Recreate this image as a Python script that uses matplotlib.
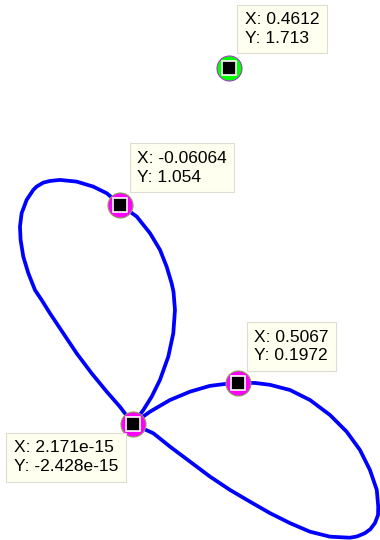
import matplotlib
matplotlib.use("Agg")
import matplotlib.pyplot as plt

plt.rcParams["font.family"] = ["Liberation Sans", "DejaVu Sans"]

# curve: origin -> upper loop -> origin -> lower loop -> origin
curve_x = [0.0, 0.050, 0.090, 0.130, 0.170, 0.194, 0.202, 0.195, 0.186, 0.162,
           0.130, 0.082, 0.018, -0.06064, -0.126, -0.191, -0.271, -0.351, -0.399, -0.431,
           -0.463, -0.479, -0.511, -0.535, -0.543, -0.540, -0.527, -0.503, -0.471, -0.439,
           -0.399, -0.335, -0.271, -0.199, -0.126, -0.063, 0.0,
           0.098, 0.178, 0.274, 0.370, 0.466, 0.563, 0.659, 0.755, 0.851, 0.947,
           1.043, 1.077, 1.115, 1.141, 1.163, 1.178, 1.179, 1.172, 1.139, 1.091,
           1.027, 0.947, 0.851, 0.755, 0.659, 0.587, 0.5067, 0.442, 0.370, 0.274,
           0.178, 0.082, 0.0]
curve_y = [0.0, 0.067, 0.131, 0.212, 0.324, 0.436, 0.548, 0.635, 0.676, 0.756,
           0.837, 0.917, 0.997, 1.054, 1.109, 1.141, 1.165, 1.173, 1.168, 1.160,
           1.141, 1.125, 1.077, 1.013, 0.949, 0.885, 0.804, 0.725, 0.644, 0.596,
           0.532, 0.436, 0.340, 0.244, 0.155, 0.083, 0.0,
           -0.045, -0.109, -0.181, -0.253, -0.317, -0.374, -0.429, -0.477, -0.518, -0.542,
           -0.547, -0.541, -0.525, -0.506, -0.477, -0.438, -0.398, -0.317, -0.221, -0.125,
           -0.037, 0.043, 0.115, 0.163, 0.188, 0.197, 0.1972, 0.192, 0.183, 0.155,
           0.115, 0.059, 0.0]

# data tips
tip_x = [2.171e-15, -0.06064, 0.5067]
tip_y = [-2.428e-15, 1.054, 0.1972]
green_x = [0.4612]
green_y = [1.713]
tip_labels = ["X: 2.171e-15\nY: -2.428e-15",
              "X: -0.06064\nY: 1.054",
              "X: 0.5067\nY: 0.1972"]
green_label = "X: 0.4612\nY: 1.713"

fig = plt.figure(figsize=(3.8, 5.4), dpi=100)
ax = fig.add_axes([0, 0, 1, 1])
ax.set_xlim(-0.639, 1.1875)
ax.set_ylim(-0.558, 2.038)
ax.axis("off")

ax.plot(curve_x, curve_y, color="#0000FF", lw=2.7, solid_joinstyle="round", zorder=1)

ax.plot(tip_x, tip_y, "o", ms=18, mfc="#FF00FF", mec="#8c9a5a", mew=0.8, ls="none", zorder=3)
ax.plot(tip_x, tip_y, "s", ms=9.5, mfc="black", mec="white", mew=1.2, ls="none", zorder=4)
ax.plot(green_x, green_y, "o", ms=18, mfc="#00FF00", mec="#9b40c0", mew=0.8, ls="none", zorder=3)
ax.plot(green_x, green_y, "s", ms=9.5, mfc="black", mec="white", mew=1.2, ls="none", zorder=4)

box = dict(boxstyle="square,pad=0.43", fc="#FFFFEF", ec="#DCDCD2", lw=0.8)
txt = dict(fontsize=12.5, textcoords="offset pixels", va="top", bbox=box,
           linespacing=1.32, zorder=5)

# offsets of the text anchor from each marker, pixels
offsets = [(-14.8, -16.5), (16.7, 54), (16, 53.3)]
aligns = ["right", "left", "left"]
for x, y, lab, off, ha in zip(tip_x, tip_y, tip_labels, offsets, aligns):
    ax.annotate(lab, (x, y), xytext=off, ha=ha, multialignment="left", **txt)
ax.annotate(green_label, (green_x[0], green_y[0]), xytext=(15.8, 55.5), ha="left", **txt)

fig.savefig("out.png", dpi=100)
